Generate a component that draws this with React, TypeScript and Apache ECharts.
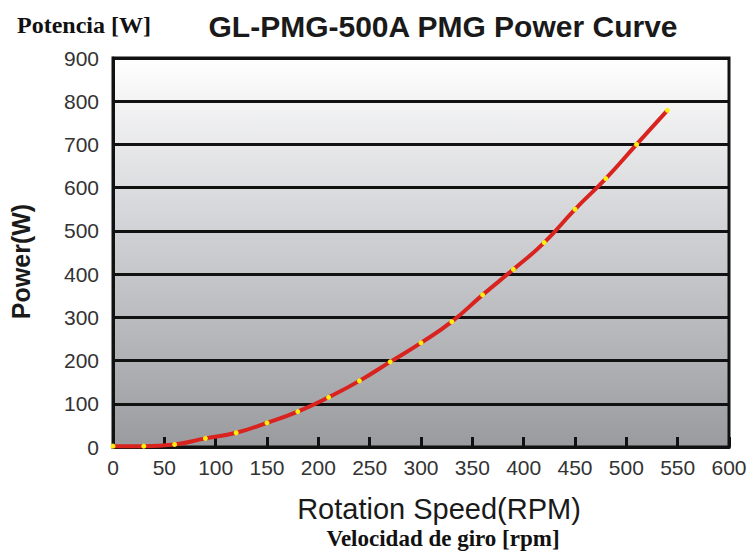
import React, { useEffect, useRef } from "react";
import * as echarts from "echarts";

const rpm = [0, 30, 60, 90, 120, 150, 180, 210, 240, 270, 300, 330, 360, 390, 420, 450, 480, 510, 540];
const powerW = [2, 2, 6, 20, 33, 56, 82, 115, 153, 197, 241, 290, 352, 411, 473, 550, 621, 700, 779];
const xTicks = [0, 50, 100, 150, 200, 250, 300, 350, 400, 450, 500, 550, 600];
const yTicks = [0, 100, 200, 300, 400, 500, 600, 700, 800, 900];

export default function App() {
  const ref = useRef<HTMLDivElement>(null);
  useEffect(() => {
    if (!ref.current) return;
    const chart = echarts.init(ref.current, undefined, { renderer: "svg" });
    const data = rpm.map((r, i) => [r, powerW[i]]);
    const sans = "Liberation Sans, Arial, sans-serif";
    const serif = "Liberation Serif, Times New Roman, serif";
    chart.setOption({
      animation: false,
      backgroundColor: "#ffffff",
      title: [
        {
          text: "GL-PMG-500A PMG Power Curve",
          left: 438,
          top: 6,
          textAlign: "center",
          textStyle: { fontFamily: sans, fontSize: 30, fontWeight: "bold", color: "#1a1a1a" },
        },
        {
          text: "Potencia [W]",
          left: 12,
          top: 8,
          textStyle: { fontFamily: serif, fontSize: 24, fontWeight: "bold", color: "#111" },
        },
        {
          text: "Velocidad de giro [rpm]",
          left: 443,
          top: 527,
          padding: 0,
          textAlign: "center",
          textStyle: { fontFamily: serif, fontSize: 23, fontWeight: "bold", color: "#111", lineHeight: 23 },
        },
      ],
      grid: {
        left: 111,
        right: 23,
        top: 58,
        bottom: 107,
        show: true,
        borderColor: "#111",
        borderWidth: 3,
        backgroundColor: new echarts.graphic.LinearGradient(0, 0, 0, 1, [
          { offset: 0, color: "#ffffff" },
          { offset: 0.5, color: "#cbccd0" },
          { offset: 1, color: "#9a9b9f" },
        ]),
      },
      xAxis: {
        type: "value",
        min: xTicks[0],
        max: xTicks[xTicks.length - 1],
        interval: 50,
        name: "Rotation Speed(RPM)",
        nameLocation: "middle",
        nameGap: 48,
        nameTextStyle: { fontFamily: sans, fontSize: 29, lineHeight: 28, color: "#1a1a1a", padding: [0, 0, 0, 36] },
        axisLine: { show: true, lineStyle: { color: "#111", width: 3 } },
        axisTick: { show: true, inside: true, length: 10, lineStyle: { color: "#111", width: 3 } },
        axisLabel: { fontFamily: sans, fontSize: 21, color: "#333", margin: 10 },
        splitLine: { show: false },
      },
      yAxis: {
        type: "value",
        min: yTicks[0],
        max: yTicks[yTicks.length - 1],
        interval: 100,
        name: "Power(W)",
        nameLocation: "middle",
        nameGap: 80,
        nameTextStyle: { fontFamily: sans, fontSize: 25, color: "#1a1a1a", fontWeight: "bold", padding: [0, 18, 0, 0] },
        axisLine: { show: true, lineStyle: { color: "#111", width: 3 } },
        axisTick: { show: false },
        axisLabel: { fontFamily: sans, fontSize: 21, color: "#333", margin: 14 },
        splitLine: { show: true, lineStyle: { color: "#111", width: 3 } },
      },
      series: [
        {
          type: "line",
          data,
          smooth: true,
          symbol: "circle",
          symbolSize: 5,
          showSymbol: true,
          lineStyle: { color: "#d8231f", width: 4 },
          itemStyle: { color: "#ffee10", borderWidth: 0 },
          z: 5,
        },
      ],
    });
    return () => chart.dispose();
  }, []);
  return <div ref={ref} style={{ width: 752, height: 554, position: "absolute", left: 0, top: 0 }} />;
}
